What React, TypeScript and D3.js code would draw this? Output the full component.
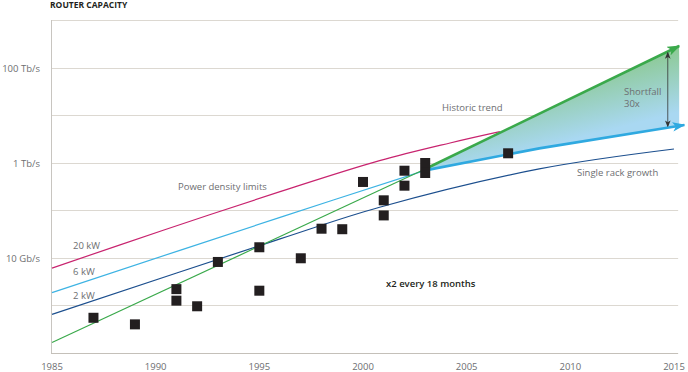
import { useEffect, useRef } from "react";
import * as d3 from "d3";

const W = 688;
const H = 372;

// measured routers (capacity in Gb/s)
const sampleYears = [1987, 1989, 1991, 1991, 1992, 1993, 1995, 1995, 1997, 1998, 1999, 2000, 2001, 2001, 2002, 2002, 2003, 2003, 2007];
const sampleGbps = [0.55, 0.4, 2.2, 1.26, 0.96, 8.2, 16.7, 2.04, 9.8, 41, 40, 394, 162, 78, 679, 329, 986, 608, 1578];

// power density limit curves [year, Gb/s]
const power20kW: [number, number][] = [[1985, 6.1], [1990.4, 38.5], [1996, 246], [2000.8, 1104], [2004.2, 2600], [2006.6, 4490]];
const power6kW: [number, number][] = [[1985, 1.86], [1996, 71], [2003, 690]];
const singleRack: [number, number][] = [[1985, 0.65], [1996, 25], [2000.8, 116], [2008.5, 740], [2015, 1940]];

// x2 every 18 months
const historic: [number, number][] = [[1985, 0.166], [2003, 738]];
const historicProj: [number, number][] = [[2003, 738], [2015.25, 284000]];
const rackProj: [number, number][] = [[2003, 690], [2008.5, 2000], [2015.5, 6200]];

const shortfallYear = 2014.7;
const shortfallTop = 202000;
const shortfallBottom = 5910;

const yearTicks = [1985, 1990, 1995, 2000, 2005, 2010, 2015];
const gridGbps = [1, 10, 100, 1e3, 1e4, 1e5, 1e6];
const yTickValues = [10, 1e3, 1e5];
const yTickLabels = ["10 Gb/s", "1 Tb/s", "100 Tb/s"];

export default function App() {
  const ref = useRef<SVGSVGElement>(null);

  useEffect(() => {
    document.body.style.margin = "0";
    const svg = d3.select(ref.current);
    svg.selectAll("*").remove();

    const font = "'Open Sans', sans-serif";
    const x = d3.scaleLinear().domain([1985, 2015]).range([52, 674]);
    const y = d3.scaleLog().domain([0.1, 1e6]).range([353, 20]);
    const x0 = x(1985) - 1;
    const xEnd = x(2015.25);

    const defs = svg.append("defs");
    const arrow = (id: string, color: string, len: number, wid: number) => {
      defs
        .append("marker")
        .attr("id", id)
        .attr("markerUnits", "userSpaceOnUse")
        .attr("markerWidth", len + 2)
        .attr("markerHeight", wid + 2)
        .attr("viewBox", `0 0 ${len} ${wid}`)
        .attr("refX", len - 1)
        .attr("refY", wid / 2)
        .attr("orient", "auto-start-reverse")
        .append("path")
        .attr("d", `M0,0L${len},${wid / 2}L0,${wid}L${len * 0.25},${wid / 2}Z`)
        .attr("fill", color);
    };
    arrow("arrGreen", "#3aa94b", 11, 8);
    arrow("arrBlue", "#2fa9e0", 11, 8);
    arrow("arrBlack", "#333", 5, 4);

    const gx1 = xEnd;
    const gy1 = y(historicProj[1][1]);
    const grad = defs
      .append("linearGradient")
      .attr("id", "gap")
      .attr("gradientUnits", "userSpaceOnUse")
      .attr("x1", gx1)
      .attr("y1", gy1)
      .attr("x2", gx1 + 16)
      .attr("y2", gy1 + 62);
    grad.append("stop").attr("offset", 0).attr("stop-color", "#8cc993");
    grad.append("stop").attr("offset", 1).attr("stop-color", "#a9d8f2");

    defs
      .append("clipPath")
      .attr("id", "gapClip")
      .append("rect")
      .attr("x", x(2003))
      .attr("y", 0)
      .attr("width", xEnd - x(2003))
      .attr("height", H);

    // grid
    svg
      .append("g")
      .selectAll("line")
      .data(gridGbps)
      .join("line")
      .attr("x1", x0)
      .attr("x2", x(2015.2))
      .attr("y1", (d) => Math.round(y(d)) + 0.5)
      .attr("y2", (d) => Math.round(y(d)) + 0.5)
      .attr("stroke", "#dcd8d1")
      .attr("stroke-width", 1);

    svg
      .append("line")
      .attr("x1", x0)
      .attr("x2", x(2015.2))
      .attr("y1", Math.round(y(0.1)) + 0.5)
      .attr("y2", Math.round(y(0.1)) + 0.5)
      .attr("stroke", "#c4c0b9");
    svg
      .append("line")
      .attr("x1", Math.round(x0) + 0.5)
      .attr("x2", Math.round(x0) + 0.5)
      .attr("y1", y(1e6))
      .attr("y2", y(0.1))
      .attr("stroke", "#c8c5c0");

    // axis labels
    svg
      .append("g")
      .selectAll("text")
      .data(yTickValues)
      .join("text")
      .attr("x", 40)
      .attr("y", (d) => y(d) + 4)
      .attr("text-anchor", "end")
      .attr("font-family", font)
      .attr("font-size", 9.5)
      .attr("fill", "#6d6e71")
      .text((d, i) => yTickLabels[i]);

    svg
      .append("g")
      .selectAll("text")
      .data(yearTicks)
      .join("text")
      .attr("x", (d) => x(d))
      .attr("y", 370)
      .attr("text-anchor", "middle")
      .attr("font-family", font)
      .attr("font-size", 9.5)
      .attr("fill", "#6d6e71")
      .text((d) => d);

    const curve = d3
      .line<[number, number]>()
      .x((d) => x(d[0]))
      .y((d) => y(d[1]))
      .curve(d3.curveCatmullRom.alpha(0.5));
    const straight = d3
      .line<[number, number]>()
      .x((d) => x(d[0]))
      .y((d) => y(d[1]));

    const thin = (data: [number, number][], color: string) =>
      svg
        .append("path")
        .attr("d", curve(data))
        .attr("fill", "none")
        .attr("stroke", color)
        .attr("stroke-width", 1.2);
    thin(power20kW, "#c8246f");
    thin(power6kW, "#3db3e3");
    thin(singleRack, "#1c4f8e");
    thin(historic, "#3aa94b");

    // shortfall wedge
    const wedge = [...historicProj, ...rackProj.slice().reverse()];
    svg
      .append("path")
      .attr("d", straight(wedge) + "Z")
      .attr("fill", "url(#gap)")
      .attr("clip-path", "url(#gapClip)");

    svg
      .append("path")
      .attr("d", straight(historicProj))
      .attr("fill", "none")
      .attr("stroke", "#3aa94b")
      .attr("stroke-width", 2.6)
      .attr("marker-end", "url(#arrGreen)");
    svg
      .append("path")
      .attr("d", straight(rackProj))
      .attr("fill", "none")
      .attr("stroke", "#2fa9e0")
      .attr("stroke-width", 2.6)
      .attr("marker-end", "url(#arrBlue)");

    // data points
    svg
      .append("g")
      .selectAll("rect")
      .data(sampleGbps)
      .join("rect")
      .attr("x", (d, i) => x(sampleYears[i]) - 5)
      .attr("y", (d) => y(d) - 5)
      .attr("width", 10)
      .attr("height", 10)
      .attr("fill", "#231f20");

    // shortfall arrow
    svg
      .append("line")
      .attr("x1", x(shortfallYear))
      .attr("x2", x(shortfallYear))
      .attr("y1", y(shortfallTop))
      .attr("y2", y(shortfallBottom))
      .attr("stroke", "#333")
      .attr("stroke-width", 0.8)
      .attr("marker-start", "url(#arrBlack)")
      .attr("marker-end", "url(#arrBlack)");

    const label = (tx: number, ty: number, s: string, color = "#6d6e71", weight = 400, size = 9.5) =>
      svg
        .append("text")
        .attr("x", tx)
        .attr("y", ty)
        .attr("font-family", font)
        .attr("font-size", size)
        .attr("font-weight", weight)
        .attr("fill", color)
        .text(s);

    label(50, 8, "ROUTER CAPACITY", "#231f20", 700, 8.5);
    label(73, 249, "20 kW");
    label(73, 275, "6 kW");
    label(73, 298.5, "2 kW");
    label(178, 190, "Power density limits");
    label(442, 110.5, "Historic trend");
    label(577, 175.5, "Single rack growth");
    label(624, 95, "Shortfall");
    label(624, 106.5, "30x");
    label(386, 286.5, "x2 every 18 months", "#231f20", 600);
  }, []);

  return <svg ref={ref} width={W} height={H} style={{ display: "block" }} />;
}
